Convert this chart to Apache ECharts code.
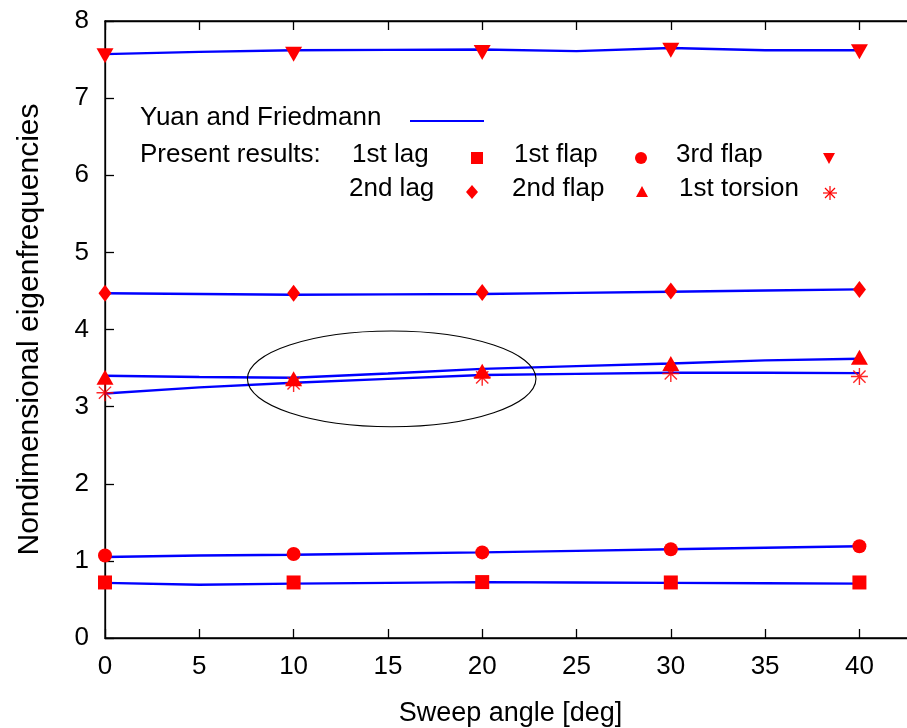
<!DOCTYPE html>
<html>
<head>
<meta charset="utf-8">
<script src="https://cdn.jsdelivr.net/npm/echarts@6/dist/echarts.min.js"></script>
<style>
  html, body { margin: 0; padding: 0; background: #fff; }
  #chart { width: 907px; height: 728px; }
</style>
</head>
<body>
<div id="chart"></div>
<script>
// Sweep angles (deg)
const sweepRef = [0, 5, 10, 15, 20, 25, 30, 35, 40];   // Yuan and Friedmann curves
const sweepPresent = [0, 10, 20, 30, 40];              // present results

// Yuan and Friedmann reference curves
const yfLag1     = [0.715, 0.69, 0.705, 0.715, 0.725, 0.72, 0.715, 0.71, 0.705];
const yfFlap1    = [1.05, 1.07, 1.08, 1.095, 1.11, 1.13, 1.15, 1.17, 1.19];
const yfTorsion1 = [3.17, 3.25, 3.31, 3.36, 3.41, 3.425, 3.44, 3.44, 3.435];
const yfFlap2    = [3.40, 3.385, 3.375, 3.43, 3.49, 3.525, 3.56, 3.60, 3.62];
const yfLag2     = [4.47, 4.46, 4.45, 4.455, 4.46, 4.475, 4.49, 4.505, 4.52];
const yfFlap3    = [7.57, 7.60, 7.62, 7.625, 7.63, 7.61, 7.65, 7.62, 7.62];

// Present results
const prLag1     = [0.72, 0.72, 0.725, 0.72, 0.72];
const prFlap1    = [1.07, 1.09, 1.11, 1.15, 1.19];
const prLag2     = [4.47, 4.47, 4.48, 4.50, 4.52];
const prFlap2    = [3.38, 3.36, 3.46, 3.56, 3.64];
const prFlap3    = [7.55, 7.57, 7.59, 7.62, 7.60];
const prTorsion1 = [3.18, 3.30, 3.38, 3.43, 3.39];

// Axis ranges
const xRange = [0, 43, 5];
const yRange = [0, 8, 1];

// Highlighted region (veering of 2nd flap / 1st torsion)
const veerCenter = [15.2, 3.36];
const veerRadii = [7.65, 0.62];

const FONT = '"Liberation Sans", Arial, Helvetica, sans-serif';
const FS = 26;
const BLUE = '#0000ff';
const RED = '#ff0000';
const STAR = 'path://M0,-1L0,1M-1,0L1,0M-0.72,-0.72L0.72,0.72M-0.72,0.72L0.72,-0.72';

const pair = (xs, ys) => xs.map((x, i) => [x, ys[i]]);

function refLine(name, ys) {
  return {
    name: name, type: 'line', data: pair(sweepRef, ys),
    showSymbol: false, symbol: 'none', smooth: false,
    lineStyle: { color: BLUE, width: 2.4 }, z: 2, silent: true
  };
}
function marks(name, ys, symbol, size, extra) {
  return Object.assign({
    name: name, type: 'scatter', data: pair(sweepPresent, ys),
    symbol: symbol, symbolSize: size,
    itemStyle: { color: RED, opacity: 1 }, z: 5, silent: true
  }, extra || {});
}

const chart = echarts.init(document.getElementById('chart'), null, { renderer: 'canvas' });

const axisCommon = {
  type: 'value',
  axisLine: { show: true, lineStyle: { color: '#000', width: 1.3 } },
  axisTick: { show: true, inside: true, length: 9, lineStyle: { color: '#000', width: 1.3 } },
  splitLine: { show: false }
};

chart.setOption({
  animation: false,
  backgroundColor: '#fff',
  grid: { left: 105, top: 21, right: -9, bottom: 90, outerBoundsMode: 'none', containLabel: false,
    show: true, borderColor: '#000', borderWidth: 1.3, backgroundColor: 'transparent' },
  xAxis: [
    Object.assign({}, axisCommon, {
      min: xRange[0], max: xRange[1], interval: xRange[2], position: 'bottom',
      axisLabel: { color: '#000', fontSize: FS, fontFamily: FONT, margin: 16, showMaxLabel: false },
      name: 'Sweep angle [deg]', nameLocation: 'middle', nameGap: 62,
      nameTextStyle: { color: '#000', fontSize: 27, fontFamily: FONT }
    }),
    Object.assign({}, axisCommon, {
      min: xRange[0], max: xRange[1], interval: xRange[2], position: 'top',
      axisLabel: { show: false }
    })
  ],
  yAxis: [
    Object.assign({}, axisCommon, {
      min: yRange[0], max: yRange[1], interval: yRange[2],
      axisLabel: { color: '#000', fontSize: FS, fontFamily: FONT, margin: 16 },
      name: 'Nondimensional eigenfrequencies', nameLocation: 'middle', nameGap: 60,
      nameTextStyle: { color: '#000', fontSize: 30, fontFamily: FONT }
    })
  ],
  series: [
    refLine('Yuan 1st lag', yfLag1),
    refLine('Yuan 1st flap', yfFlap1),
    refLine('Yuan 1st torsion', yfTorsion1),
    refLine('Yuan 2nd flap', yfFlap2),
    refLine('Yuan 2nd lag', yfLag2),
    refLine('Yuan 3rd flap', yfFlap3),
    marks('1st lag', prLag1, 'rect', 14),
    marks('1st flap', prFlap1, 'circle', 14),
    marks('2nd lag', prLag2, 'diamond', [13, 17]),
    marks('2nd flap', prFlap2, 'triangle', [17, 15]),
    marks('3rd flap', prFlap3, 'triangle', [17, 15], { symbolRotate: 180 }),
    marks('1st torsion', prTorsion1, STAR, 17, {
      itemStyle: { color: 'none', borderColor: RED, borderWidth: 1.4, opacity: 0.85 }
    })
  ]
});

// Key block and highlighted ellipse
function txt(x, y, s) {
  return { type: 'text', left: x, top: y - 15, silent: true,
    style: { text: s, fill: '#000', font: FS + 'px ' + FONT } };
}
const c = chart.convertToPixel({ gridIndex: 0 }, veerCenter);
const e = chart.convertToPixel({ gridIndex: 0 }, [veerCenter[0] + veerRadii[0], veerCenter[1] + veerRadii[1]]);

const keyRow1 = 120, keyRow2 = 157, keyRow3 = 191;
chart.setOption({
  graphic: [
    { type: 'ellipse', silent: true, z: 10,
      shape: { cx: c[0], cy: c[1], rx: Math.abs(e[0] - c[0]), ry: Math.abs(e[1] - c[1]) },
      style: { fill: 'none', stroke: '#000', lineWidth: 1.1 } },
    txt(140, keyRow1, 'Yuan and Friedmann'),
    { type: 'line', silent: true, shape: { x1: 410, y1: keyRow1 + 1, x2: 484, y2: keyRow1 + 1 },
      style: { stroke: BLUE, lineWidth: 2 } },
    txt(140, keyRow2, 'Present results:'),
    txt(352, keyRow2, '1st lag'),
    { type: 'rect', silent: true, shape: { x: 471, y: keyRow2 - 5, width: 12, height: 12 }, style: { fill: RED } },
    txt(514, keyRow2, '1st flap'),
    { type: 'circle', silent: true, shape: { cx: 641, cy: keyRow2 + 1, r: 6 }, style: { fill: RED } },
    txt(676, keyRow2, '3rd flap'),
    { type: 'polygon', silent: true, shape: { points: [[823, keyRow2 - 4], [835, keyRow2 - 4], [829, keyRow2 + 7]] }, style: { fill: RED } },
    txt(349, keyRow3, '2nd lag'),
    { type: 'polygon', silent: true, shape: { points: [[472, keyRow3 - 6], [478, keyRow3 + 1], [472, keyRow3 + 8], [466, keyRow3 + 1]] }, style: { fill: RED } },
    txt(512, keyRow3, '2nd flap'),
    { type: 'polygon', silent: true, shape: { points: [[642, keyRow3 - 5], [648, keyRow3 + 6], [636, keyRow3 + 6]] }, style: { fill: RED } },
    txt(679, keyRow3, '1st torsion'),
    { type: 'group', silent: true, x: 830, y: keyRow3 + 2, children: [
      { type: 'line', shape: { x1: 0, y1: -7, x2: 0, y2: 7 }, style: { stroke: RED, lineWidth: 1.2 } },
      { type: 'line', shape: { x1: -7, y1: 0, x2: 7, y2: 0 }, style: { stroke: RED, lineWidth: 1.2 } },
      { type: 'line', shape: { x1: -5, y1: -5, x2: 5, y2: 5 }, style: { stroke: RED, lineWidth: 1.2 } },
      { type: 'line', shape: { x1: -5, y1: 5, x2: 5, y2: -5 }, style: { stroke: RED, lineWidth: 1.2 } }
    ] }
  ]
});
</script>
</body>
</html>
